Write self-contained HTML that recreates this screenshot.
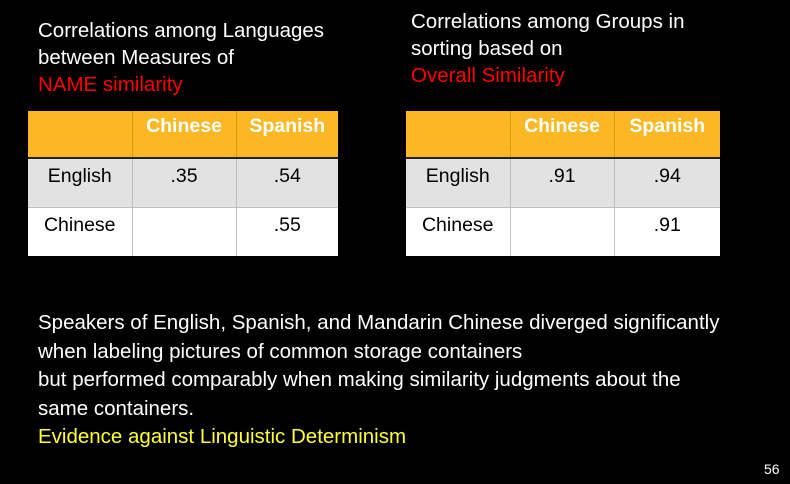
<!DOCTYPE html>
<html><head><meta charset="utf-8"><style>
body{margin:0;width:790px;height:484px;background:#000;overflow:hidden;font-family:"Liberation Sans",sans-serif;position:relative}
.t{position:absolute;color:#fff;font-size:20.5px;line-height:27px;white-space:nowrap}
.red{color:#ff0000}.yel{color:#ffff33}
table{position:absolute;border-collapse:collapse;font-size:19.5px}
td{padding:0;text-align:center;vertical-align:top;border-left:1px solid #bfbfbf}
td:first-child{border-left:none}
tr.h td{background:#fbb824;color:#fff;font-weight:bold;height:47px;vertical-align:top;padding-top:4px;box-sizing:border-box;border-left:1px solid #d99a10}
tr.h td:first-child{border-left:none}
tr.r1 td{background:#e2e2e2;color:#000;height:49px;border-top:2px solid #222;padding-top:6px;box-sizing:border-box}
tr.r2 td{background:#fff;color:#000;height:49px;border-top:1px solid #bfbfbf;padding-top:6px;box-sizing:border-box}
</style></head><body>
<div class="t" style="left:38px;top:17px">Correlations among Languages<br>between Measures of<br><span class="red">NAME similarity</span></div>
<div class="t" style="left:411px;top:8px">Correlations among Groups in<br>sorting based on<br><span class="red">Overall Similarity</span></div>
<table style="left:28px;top:111px;width:310px">
<colgroup><col style="width:104px"><col style="width:104px"><col style="width:102px"></colgroup>
<tr class="h"><td></td><td>Chinese</td><td>Spanish</td></tr>
<tr class="r1"><td>English</td><td>.35</td><td>.54</td></tr>
<tr class="r2"><td>Chinese</td><td></td><td>.55</td></tr>
</table>
<table style="left:406px;top:111px;width:314px">
<colgroup><col style="width:104px"><col style="width:104px"><col style="width:106px"></colgroup>
<tr class="h"><td></td><td>Chinese</td><td>Spanish</td></tr>
<tr class="r1"><td>English</td><td>.91</td><td>.94</td></tr>
<tr class="r2"><td>Chinese</td><td></td><td>.91</td></tr>
</table>
<div class="t" style="left:38px;top:309px;line-height:28.5px">Speakers of English, Spanish, and Mandarin Chinese diverged significantly<br>when labeling pictures of common storage containers<br>but performed comparably when making similarity judgments about the<br>same containers.<br><span class="yel">Evidence against Linguistic Determinism</span></div>
<div class="t" style="left:764px;top:460px;font-size:14px;line-height:18px">56</div>
</body></html>
